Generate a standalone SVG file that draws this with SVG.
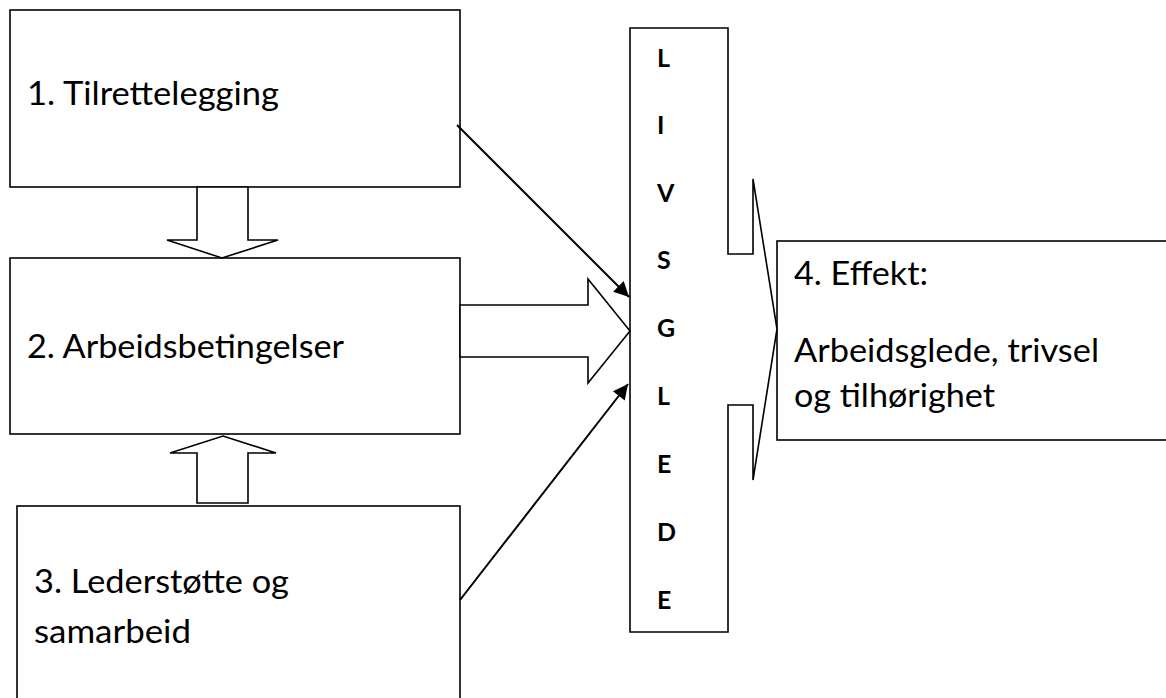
<svg xmlns="http://www.w3.org/2000/svg" width="1166" height="698" viewBox="0 0 1166 698">
<style>
.box{fill:#fff;stroke:#000;stroke-width:1.6}
.blk{fill:#fff;stroke:#000;stroke-width:1.6;stroke-linejoin:miter}
.t{font-family:Lato,"Open Sans","Liberation Sans",sans-serif;font-size:33px;fill:#000}
.lt{font-family:Lato,"Open Sans","Liberation Sans",sans-serif;font-size:25px;font-weight:bold;fill:#000}
.con{stroke:#000;stroke-width:2;fill:none}
</style>
<defs>
<marker id="ah" viewBox="0 0 10 10" refX="10" refY="5" markerWidth="8" markerHeight="7.5" markerUnits="strokeWidth" orient="auto">
<path d="M0,0 L10,5 L0,10 z" fill="#000"/>
</marker>
</defs>
<rect width="1166" height="698" fill="#fff"/>
<g id="node1">
<rect class="box" x="10" y="10" width="450" height="177"/>
<text class="t" x="27" y="105" textLength="252" lengthAdjust="spacingAndGlyphs">1. Tilrettelegging</text>
</g>
<g id="node2">
<rect class="box" x="10" y="258" width="450" height="176"/>
<text class="t" x="27" y="358" textLength="317" lengthAdjust="spacingAndGlyphs">2. Arbeidsbetingelser</text>
</g>
<g id="node3">
<rect class="box" x="17" y="506" width="443" height="220"/>
<text class="t" x="34" y="593" textLength="255" lengthAdjust="spacingAndGlyphs">3. Lederstøtte og</text>
<text class="t" x="34" y="643" textLength="157" lengthAdjust="spacingAndGlyphs">samarbeid</text>
</g>
<g id="node4">
<rect class="box" x="777" y="241" width="420" height="199"/>
<text class="t" x="794" y="285" textLength="134" lengthAdjust="spacingAndGlyphs">4. Effekt:</text>
<text class="t" x="794" y="362" textLength="305" lengthAdjust="spacingAndGlyphs">Arbeidsglede, trivsel</text>
<text class="t" x="794" y="407" textLength="201" lengthAdjust="spacingAndGlyphs">og tilhørighet</text>
</g>
<g id="livsglede">
<polygon class="blk" points="630,28 728,28 728,254 753,254 753,179 777,329 753,480 753,405 728,405 728,632 630,632"/>
<text class="lt" x="657" y="67">L</text>
<text class="lt" x="657" y="134">I</text>
<text class="lt" x="657" y="202">V</text>
<text class="lt" x="657" y="269">S</text>
<text class="lt" x="657" y="337">G</text>
<text class="lt" x="657" y="405">L</text>
<text class="lt" x="657" y="473">E</text>
<text class="lt" x="657" y="541">D</text>
<text class="lt" x="657" y="609">E</text>
</g>
<g id="connectors">
<polygon class="blk" points="197,187 248,187 248,240 278,240 222,258 167,240 197,240"/>
<polygon class="blk" points="197,503 248,503 248,453 276,453 223,436 170,453 197,453"/>
<polygon class="blk" points="460,305 588,305 588,279 630,331 588,383 588,357 460,357"/>
<line class="con" x1="457" y1="125" x2="629" y2="297" marker-end="url(#ah)"/>
<line class="con" x1="460" y1="600" x2="628" y2="384" marker-end="url(#ah)"/>
</g>
</svg>
